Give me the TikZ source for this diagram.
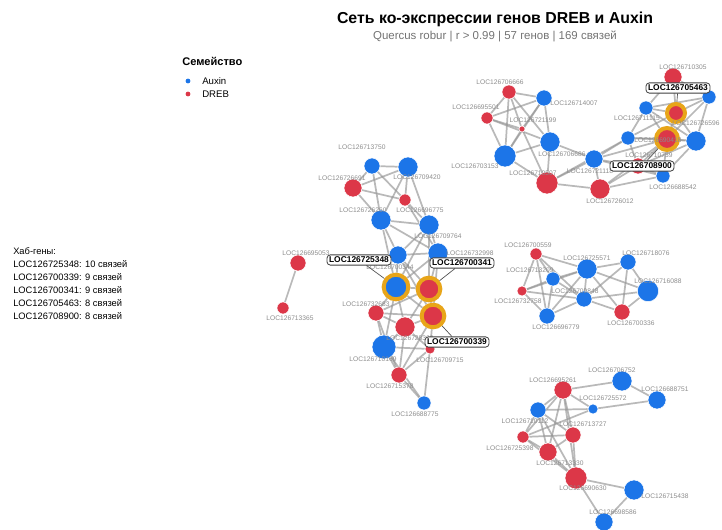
\documentclass[tikz,border=0pt]{standalone}
\usepackage{fontspec}
\setmainfont{Liberation Sans}
\usetikzlibrary{backgrounds}

\definecolor{auxblue}{RGB}{28,117,232}
\definecolor{drebred}{RGB}{220,55,72}
\definecolor{hubring}{RGB}{232,165,25}

\tikzset{
  gene/.style={circle, draw=white, line width=0.4pt, inner sep=0pt},
  aux/.style={gene, fill=auxblue},
  dreb/.style={gene, fill=drebred},
  hub/.style={circle, draw=hubring, line width=3pt, inner sep=0pt},
  glab/.style={font=\fontsize{5}{6}\selectfont, text=black!45, inner sep=0.5pt},
  hublab/.style={draw=black!75, fill=white, line width=0.6pt, rounded corners=2.5pt,
    inner sep=1.6pt, font=\bfseries\fontsize{6.3}{7.5}\selectfont},
  leader/.style={draw=black!70, line width=0.5pt},
  links/.style={every edge/.style={draw=black!42, line width=1.3pt, draw opacity=0.65}},
}

\begin{document}
\begin{tikzpicture}[x=0.75pt,y=0.75pt,yscale=-1,xscale=1]
    \useasboundingbox (0,0) rectangle (722,530);

    % Title
    \node[font=\bfseries\fontsize{11.9}{14}\selectfont] (title) at (495,19) {Сеть ко-экспрессии генов DREB и Auxin};
    \node[font=\fontsize{8.6}{10}\selectfont, text=black!55] (subtitle) at (495,36) {Quercus robur | r > 0.99 | 57 генов | 169 связей};

    % Legend
    \node[anchor=west, inner sep=0pt, font=\bfseries\fontsize{8.3}{10}\selectfont] (legtitle) at (182,61) {Семейство};
    \node[circle, fill=auxblue, minimum size=3.6pt, inner sep=0pt] (legaux) at (188,81) {};
    \node[circle, fill=drebred, minimum size=3.6pt, inner sep=0pt] (legdreb) at (188,94) {};
    \node[anchor=west, inner sep=0pt, font=\fontsize{7.2}{9}\selectfont] (legauxt) at (202,81) {Auxin};
    \node[anchor=west, inner sep=0pt, font=\fontsize{7.2}{9}\selectfont] (legdrebt) at (202,94) {DREB};

    % Hub list
    \node[anchor=north west, align=left, inner sep=0pt, font=\fontsize{7}{9.75}\selectfont] (hublist) at (13,247)
      {Хаб-гены:\\LOC126725348: 10 связей\\LOC126700339: 9 связей\\LOC126700341: 9 связей\\LOC126705463: 8 связей\\LOC126708900: 8 связей};

    % Upper group
    \node[dreb, minimum size=10.5pt] (a1) at (509,92) {};
    \node[aux, minimum size=12pt] (a2) at (544,98) {};
    \node[dreb, minimum size=9pt] (a3) at (487,118) {};
    \node[dreb, minimum size=4.5pt] (a4) at (522,129) {};
    \node[aux, minimum size=15pt] (a5) at (550,142) {};
    \node[aux, minimum size=16.5pt] (a6) at (505,156) {};
    \node[dreb, minimum size=16.5pt] (a7) at (547,183) {};
    \node[aux, minimum size=13.5pt] (a8) at (594,159) {};
    \node[dreb, minimum size=15pt] (a9) at (600,189) {};
    \node[dreb, minimum size=13.5pt] (b1) at (673,77) {};
    \node[aux, minimum size=10.5pt] (b2) at (709,97) {};
    \node[aux, minimum size=10.5pt] (b3) at (646,108) {};
    \node[aux, minimum size=10.5pt] (b4) at (628,138) {};
    \node[aux, minimum size=15pt] (b5) at (696,141) {};
    \node[aux, minimum size=10.5pt] (b6) at (663,176) {};
    \node[dreb, minimum size=12pt] (b7) at (638,166) {};
    \node[hub, fill=drebred, minimum size=13.5pt] (hA) at (676,113) {};
    \node[hub, fill=drebred, minimum size=16.5pt] (hB) at (667,139) {};

    % Central group
    \node[aux, minimum size=12pt] (c1) at (372,166) {};
    \node[aux, minimum size=15pt] (c2) at (408,167) {};
    \node[dreb, minimum size=13.5pt] (c3) at (353,188) {};
    \node[dreb, minimum size=9pt] (c4) at (405,200) {};
    \node[aux, minimum size=15pt] (c5) at (381,220) {};
    \node[aux, minimum size=15pt] (c6) at (429,225) {};
    \node[aux, minimum size=13.5pt] (c7) at (398,255) {};
    \node[aux, minimum size=15pt] (c8) at (438,253) {};
    \node[hub, fill=auxblue, minimum size=18.5pt] (h1) at (396,287) {};
    \node[hub, fill=drebred, minimum size=17pt] (h2) at (429,289) {};
    \node[hub, fill=drebred, minimum size=17pt] (h3) at (433,316) {};
    \node[dreb, minimum size=12pt] (c9) at (376,313) {};
    \node[dreb, minimum size=15pt] (c10) at (405,327) {};
    \node[aux, minimum size=18pt] (c11) at (384,347) {};
    \node[dreb, minimum size=7.5pt] (c12) at (430,349) {};
    \node[dreb, minimum size=12pt] (c13) at (399,375) {};
    \node[aux, minimum size=10.5pt] (c14) at (424,403) {};

    % Pair
    \node[dreb, minimum size=12pt] (p1) at (298,263) {};
    \node[dreb, minimum size=9pt] (p2) at (283,308) {};

    % Middle right group
    \node[dreb, minimum size=9pt] (d1) at (536,254) {};
    \node[aux, minimum size=10.5pt] (d2) at (553,279) {};
    \node[dreb, minimum size=7.5pt] (d3) at (522,291) {};
    \node[aux, minimum size=15pt] (d4) at (587,269) {};
    \node[aux, minimum size=12pt] (d5) at (628,262) {};
    \node[aux, minimum size=16pt] (d6) at (648,291) {};
    \node[aux, minimum size=12pt] (d7) at (584,299) {};
    \node[aux, minimum size=12pt] (d8) at (547,316) {};
    \node[dreb, minimum size=12pt] (d9) at (622,312) {};

    % Lower group
    \node[aux, minimum size=15pt] (e1) at (622,381) {};
    \node[aux, minimum size=13.5pt] (e2) at (657,400) {};
    \node[dreb, minimum size=13.5pt] (e3) at (563,390) {};
    \node[aux, minimum size=7.5pt] (e4) at (593,409) {};
    \node[aux, minimum size=12pt] (e5) at (538,410) {};
    \node[dreb, minimum size=12pt] (e6) at (573,435) {};
    \node[dreb, minimum size=9pt] (e7) at (523,437) {};
    \node[dreb, minimum size=13.5pt] (e8) at (548,452) {};
    \node[dreb, minimum size=16.5pt] (e9) at (576,478) {};
    \node[aux, minimum size=15pt] (e10) at (634,490) {};
    \node[aux, minimum size=13.5pt] (e11) at (604,522) {};

    % Links
    \begin{pgfonlayer}{background}
    \path[links]
      (a1) edge (a2) edge (a3) edge (a4) edge (a5) edge (a6)
      (a2) edge (a3) edge (a4) edge (a5) edge (a6)
      (a3) edge (a4) edge (a5) edge (a6)
      (a4) edge (a6) edge (a7)
      (a5) edge (a6) edge (a7) edge (a8)
      (a6) edge (a7)
      (a7) edge (a8) edge (a9) edge (b4)
      (a8) edge (a9) edge (b4) edge (b7) edge (hB) edge (b6)
      (a9) edge (b7) edge (b6) edge (hB)
      (b1) edge (hA) edge (b3) edge (b2)
      (hA) edge (b3) edge (b2) edge (hB) edge (b5) edge (b4)
      (hB) edge (b3) edge (b4) edge (b5) edge (b2) edge (b7) edge (b6)
      (b2) edge (b5) edge (b3)
      (b3) edge (b4) edge (b5)
      (b4) edge (b5) edge (b7)
      (b7) edge (b6) edge (b5)
      (b6) edge (b5);
    \path[links]
      (c1) edge (c2) edge (c3) edge (c5) edge (c4)
      (c2) edge (c3) edge (c4) edge (c5) edge (c6)
      (c3) edge (c4) edge (c5)
      (c4) edge (c6) edge (c8)
      (c5) edge (c6) edge (c7) edge (h1) edge (c8)
      (c6) edge (c7) edge (c8) edge (h1) edge (h2)
      (c7) edge (c8) edge (h1) edge (h2) edge (h3)
      (c8) edge (h1) edge (h2) edge (h3)
      (h1) edge (h2) edge (c9) edge (c10) edge (h3) edge (c11)
      (h2) edge (h3) edge (c10) edge (c9)
      (h3) edge (c10) edge (c9) edge (c12) edge (c13)
      (c9) edge (c10) edge (c11) edge (c13)
      (c10) edge (c11) edge (c12) edge (c13)
      (c11) edge (c12) edge (c13) edge (c14)
      (c13) edge (c12) edge (c14)
      (c12) edge (c14)
      (p1) edge (p2);
    \path[links]
      (d1) edge (d2) edge (d3) edge (d4) edge (d7) edge (d8)
      (d2) edge (d3) edge (d4) edge (d7) edge (d8)
      (d3) edge (d4) edge (d7) edge (d8)
      (d4) edge (d5) edge (d6) edge (d7) edge (d8) edge (d9)
      (d5) edge (d6) edge (d7) edge (d9)
      (d6) edge (d7) edge (d9)
      (d7) edge (d8) edge (d9);
    \path[links]
      (e1) edge (e2) edge (e3)
      (e2) edge (e4)
      (e3) edge (e4) edge (e5) edge (e6) edge (e7) edge (e8) edge (e9)
      (e4) edge (e5) edge (e7)
      (e5) edge (e6) edge (e7) edge (e8) edge (e9)
      (e6) edge (e7) edge (e8) edge (e9)
      (e7) edge (e8) edge (e9)
      (e8) edge (e9)
      (e9) edge (e10) edge (e11)
      (e10) edge (e11);
    \end{pgfonlayer}

    % Gene labels
    \node[glab] (la1) at (500,82) {LOC126706666};
    \node[glab] (la2) at (574,103) {LOC126714007};
    \node[glab] (la3) at (476,107) {LOC126695501};
    \node[glab] (la4) at (533,120) {LOC126721199};
    \node[glab] (la5) at (562,154) {LOC126706686};
    \node[glab] (la6) at (475,166) {LOC126703153};
    \node[glab] (la7) at (533,173) {LOC126710507};
    \node[glab] (la8) at (590,171) {LOC126721118};
    \node[glab] (la9) at (610,201) {LOC126726012};
    \node[glab] (lb1) at (683,67) {LOC126710305};
    \node[glab] (lb3) at (637,118) {LOC126711115};
    \node[glab] (lb4) at (658,140) {LOC126690418};
    \node[glab] (lb5) at (696,123) {LOC126726596};
    \node[glab] (lb6) at (673,187) {LOC126688542};
    \node[glab] (lb7) at (649,155) {LOC126710739};
    \node[glab] (lc1) at (362,147) {LOC126713750};
    \node[glab] (lc2) at (417,177) {LOC126709420};
    \node[glab] (lc3) at (342,178) {LOC126726691};
    \node[glab] (lc4) at (420,210) {LOC126696775};
    \node[glab] (lc5) at (363,210) {LOC126726260};
    \node[glab] (lc6) at (438,236) {LOC126709764};
    \node[glab] (lc7) at (390,267) {LOC126700344};
    \node[glab] (lc8) at (470,253) {LOC126732998};
    \node[glab] (lc9) at (366,304) {LOC126732683};
    \node[glab] (lc10) at (410,338) {LOC126728360};
    \node[glab] (lc11) at (373,359) {LOC126710169};
    \node[glab] (lc12) at (440,360) {LOC126709715};
    \node[glab] (lc13) at (390,386) {LOC126715378};
    \node[glab] (lc14) at (415,414) {LOC126688775};
    \node[glab] (lp1) at (306,253) {LOC126695053};
    \node[glab] (lp2) at (290,318) {LOC126713365};
    \node[glab] (ld1) at (528,245) {LOC126700559};
    \node[glab] (ld2) at (530,270) {LOC126713209};
    \node[glab] (ld3) at (518,301) {LOC126732758};
    \node[glab] (ld4) at (587,258) {LOC126725571};
    \node[glab] (ld5) at (646,253) {LOC126718076};
    \node[glab] (ld6) at (658,281) {LOC126716088};
    \node[glab] (ld7) at (575,291) {LOC126709848};
    \node[glab] (ld8) at (556,327) {LOC126696779};
    \node[glab] (ld9) at (631,323) {LOC126700336};
    \node[glab] (le1) at (612,370) {LOC126706752};
    \node[glab] (le2) at (665,389) {LOC126688751};
    \node[glab] (le3) at (553,380) {LOC126695261};
    \node[glab] (le4) at (603,398) {LOC126725572};
    \node[glab] (le5) at (525,421) {LOC126710112};
    \node[glab] (le6) at (583,424) {LOC126713727};
    \node[glab] (le7) at (510,448) {LOC126725398};
    \node[glab] (le8) at (560,463) {LOC126713330};
    \node[glab] (le9) at (583,488) {LOC126690630};
    \node[glab] (le10) at (665,496) {LOC126715438};
    \node[glab] (le11) at (613,512) {LOC126698586};

    % Hub labels
    \node[hublab] (lh1) at (359,260) {LOC126725348};
    \node[hublab] (lh2) at (462,263) {LOC126700341};
    \node[hublab] (lh3) at (457,342) {LOC126700339};
    \node[hublab] (lhA) at (678,88) {LOC126705463};
    \node[hublab] (lhB) at (642,166) {LOC126708900};
    \begin{pgfonlayer}{background}
    \draw[leader] (lh1) -- (h1);
    \draw[leader] (lh2) -- (h2);
    \draw[leader] (lh3) -- (h3);
    \draw[leader] (lhA) -- (hA);
    \draw[leader] (lhB) -- (hB);
    \end{pgfonlayer}
\end{tikzpicture}
\end{document}
